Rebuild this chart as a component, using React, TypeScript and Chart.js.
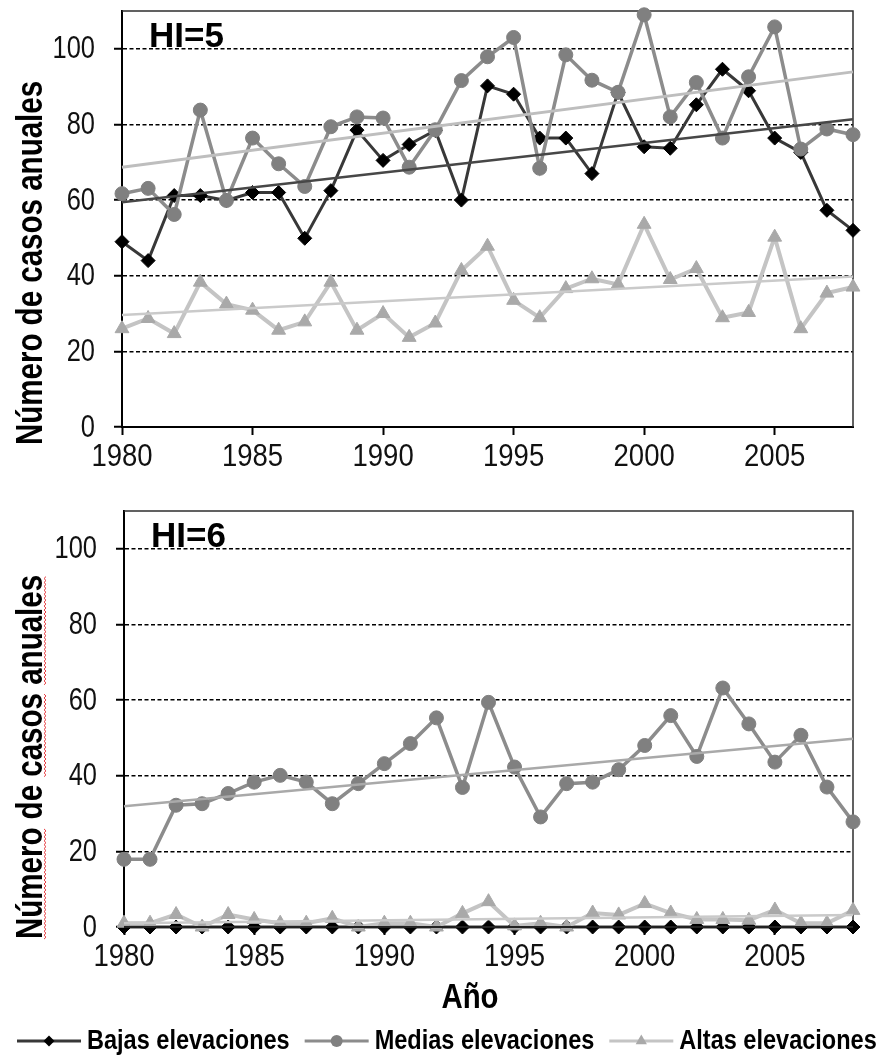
import React, { useEffect, useRef } from 'react';
import { Chart, registerables } from 'chart.js';

Chart.register(...registerables);

// ---------------- data ----------------
const years = [
  1980, 1981, 1982, 1983, 1984, 1985, 1986, 1987, 1988, 1989,
  1990, 1991, 1992, 1993, 1994, 1995, 1996, 1997, 1998, 1999,
  2000, 2001, 2002, 2003, 2004, 2005, 2006, 2007, 2008,
];

const seriesLabels = ['Bajas elevaciones', 'Medias elevaciones', 'Altas elevaciones'];
const panelLabels = ['HI=5', 'HI=6'];
const yTitle = 'Número de casos anuales';
const xTitle = 'Año';
const xTickValues = [1980, 1985, 1990, 1995, 2000, 2005];
const yTickValues = [0, 20, 40, 60, 80, 100];

// HI=5
const hi5Bajas = [49, 44, 61.2, 61.2, 59.9, 62, 62, 49.9, 62.5, 78.5, 70.5, 74.7, 78.4, 60, 90.2, 88, 76.4, 76.4, 67, 88.5, 74.1, 73.7, 85.2, 94.6, 88.9, 76.4, 72.6, 57.3, 52];
const hi5Medias = [61.7, 63.1, 56.2, 83.8, 59.9, 76.4, 69.6, 63.6, 79.4, 82, 81.7, 68.7, 78.6, 91.6, 97.9, 103, 68.4, 98.4, 91.7, 88.5, 109, 82, 91.1, 76.4, 92.6, 105.8, 73.5, 78.8, 77.3];
const hi5Altas = [26, 28.7, 24.7, 38.3, 32.5, 30.9, 25.6, 27.8, 38.3, 25.6, 30, 23.7, 27.5, 41.4, 47.8, 33.5, 28.9, 36.6, 39.2, 37.7, 53.6, 39, 41.9, 28.9, 30.3, 50.2, 26, 35.4, 37];

// HI=6
const hi6Bajas = [0, 0, 0, 0, 0, 0, 0, 0, 0, 0, 0, 0, 0, 0, 0, 0, 0, 0, 0, 0, 0, 0, 0, 0, 0, 0, 0, 0, 0];
const hi6Medias = [17.9, 17.9, 32.2, 32.6, 35.3, 38.3, 40.1, 38.3, 32.6, 37.9, 43.2, 48.5, 55.3, 36.9, 59.4, 42.3, 29.1, 37.9, 38.3, 41.6, 48, 55.9, 45.1, 63.2, 53.7, 43.6, 50.7, 37, 27.8];
const hi6Altas = [1, 1, 3.3, 0, 3.3, 2, 1, 1, 2.3, 0, 1, 1, 0, 3.6, 6.7, 0.3, 1, 0, 3.7, 3.2, 6.2, 3.7, 2, 2, 1.8, 4.5, 1, 1, 4.4];

// linear trend lines (end points)
const trendYears = [1980, 2008];
const hi5BajasTrend = [59.4, 81.4];
const hi5MediasTrend = [68.7, 93.9];
const hi5AltasTrend = [29.6, 39.8];
const hi6BajasTrend = [0, 0];
const hi6MediasTrend = [31.9, 49.8];
const hi6AltasTrend = [1.0, 3.2];

// ---------------- styling ----------------
const SANS = "'Liberation Sans', Arial, sans-serif";

const seriesStyle = [
  { line: '#383838', width: 3, point: 'rectRot', radius: 7, fill: '#000000', lr: 5.5 },
  { line: '#8c8c8c', width: 3.5, point: 'circle', radius: 7, fill: '#808080', lr: 6 },
  { line: '#c4c4c4', width: 4, point: 'triangle', radius: 8, fill: '#a9a9a9', lr: 6.5 },
];

function pts(vals: number[]) {
  return years.map((x, i) => ({ x, y: vals[i] }));
}
function tpts(vals: number[]) {
  return trendYears.map((x, i) => ({ x, y: vals[i] }));
}

function makeDatasets(series: number[][], trends: number[][], trendColors: string[], trendWidths: number[]) {
  const ds: any[] = [];
  series.forEach((vals, i) => {
    const s = seriesStyle[i];
    ds.push({
      label: seriesLabels[i],
      data: pts(vals),
      borderColor: s.line,
      borderWidth: s.width,
      pointStyle: s.point,
      pointRadius: s.radius,
      pointBackgroundColor: s.fill,
      pointBorderColor: s.fill,
      pointBorderWidth: 1,
      tension: 0,
      clip: false,
      order: 3 - i,
      isSeries: true,
      seriesIndex: i,
    });
  });
  trends.forEach((vals, i) => {
    ds.push({
      label: seriesLabels[i] + ' (tendencia)',
      data: tpts(vals),
      borderColor: trendColors[i],
      borderWidth: trendWidths[i],
      pointRadius: 0,
      tension: 0,
      clip: false,
      order: 0,
    });
  });
  return ds;
}

function drawMarker(ctx: CanvasRenderingContext2D, style: string, x: number, y: number, r: number, color: string) {
  ctx.save();
  ctx.fillStyle = color;
  ctx.beginPath();
  if (style === 'rectRot') {
    ctx.moveTo(x, y - r);
    ctx.lineTo(x + r, y);
    ctx.lineTo(x, y + r);
    ctx.lineTo(x - r, y);
    ctx.closePath();
  } else if (style === 'circle') {
    ctx.arc(x, y, r, 0, Math.PI * 2);
  } else {
    ctx.moveTo(x, y - r);
    ctx.lineTo(x + r * 0.866, y + r * 0.5);
    ctx.lineTo(x - r * 0.866, y + r * 0.5);
    ctx.closePath();
  }
  ctx.fill();
  ctx.restore();
}

// condensed text: the original uses a narrow face, emulated by a horizontal scale
function narrowText(
  ctx: CanvasRenderingContext2D, text: string, x: number, y: number, font: string, sx: number,
  align: CanvasTextAlign, baseline: CanvasTextBaseline, color = '#111'
) {
  ctx.save();
  ctx.font = font;
  ctx.fillStyle = color;
  ctx.textAlign = align;
  ctx.textBaseline = baseline;
  ctx.translate(x, y);
  ctx.scale(sx, 1);
  ctx.fillText(text, 0, 0);
  ctx.restore();
}

function panelPlugin(cfg: { panel: string; titleX: number; titleCy: number; wavy: boolean; bottom: boolean }) {
  return {
    id: 'panelDecor',
    beforeDatasetsDraw(chart: any) {
      const { ctx, chartArea: ca } = chart;
      ctx.save();
      ctx.strokeStyle = '#2e2e2e';
      ctx.lineWidth = 1.5;
      ctx.beginPath();
      ctx.moveTo(ca.left, ca.top);
      ctx.lineTo(ca.right, ca.top);
      ctx.lineTo(ca.right, ca.bottom);
      ctx.stroke();
      ctx.restore();
    },
    afterDraw(chart: any) {
      const { ctx, chartArea: ca } = chart;
      const xs = chart.scales.x;
      const ys = chart.scales.y;
      ctx.save();

      // tick labels
      yTickValues.forEach((v) => {
        narrowText(ctx, String(v), ca.left - 27, ys.getPixelForValue(v) + 1, `31px ${SANS}`, 0.82, 'right', 'middle');
      });
      xTickValues.forEach((v) => {
        narrowText(ctx, String(v), xs.getPixelForValue(v), ca.bottom + 30, `32px ${SANS}`, 0.86, 'center', 'middle');
      });

      // panel label
      ctx.font = `bold 35px ${SANS}`;
      ctx.fillStyle = '#000';
      ctx.textAlign = 'left';
      ctx.textBaseline = 'alphabetic';
      ctx.fillText(cfg.panel, ca.left + 27, ca.top + 36);

      // y title
      ctx.save();
      ctx.translate(cfg.titleX, cfg.titleCy);
      ctx.rotate(-Math.PI / 2);
      const sx = 0.82;
      ctx.scale(sx, 1);
      ctx.font = `bold 36px ${SANS}`;
      ctx.fillStyle = '#000';
      ctx.textAlign = 'left';
      ctx.textBaseline = 'alphabetic';
      const w = ctx.measureText(yTitle).width;
      const start = -w / 2;
      ctx.fillText(yTitle, start, 0);
      if (cfg.wavy) {
        const words = yTitle.split(' ');
        const spaceW = ctx.measureText(' ').width;
        let pos = start;
        ctx.strokeStyle = '#e3262b';
        ctx.lineWidth = 1;
        words.forEach((word) => {
          const ww = ctx.measureText(word).width;
          if (word.length > 2) {
            ctx.beginPath();
            let up = true;
            for (let p = pos; p <= pos + ww; p += 2.4) {
              const v = up ? 2 : 4;
              if (p === pos) ctx.moveTo(p, v);
              else ctx.lineTo(p, v);
              up = !up;
            }
            ctx.stroke();
          }
          pos += ww + spaceW;
        });
      }
      ctx.restore();

      if (cfg.bottom) {
        // x title
        narrowText(ctx, xTitle, 470, 498, `bold 35px ${SANS}`, 0.84, 'center', 'middle', '#000');

        // legend
        const items = chart.data.datasets.filter((d: any) => d.isSeries);
        let x = 17;
        const cy = 541;
        const lsx = 0.84;
        const lfont = `bold 28px ${SANS}`;
        items.forEach((d: any) => {
          const s = seriesStyle[d.seriesIndex];
          ctx.strokeStyle = s.line;
          ctx.lineWidth = 3;
          ctx.beginPath();
          ctx.moveTo(x, cy);
          ctx.lineTo(x + 64, cy);
          ctx.stroke();
          drawMarker(ctx, s.point, x + 32, cy, s.lr, s.fill);
          x += 70;
          narrowText(ctx, d.label, x, cy, lfont, lsx, 'left', 'middle', '#000');
          ctx.font = lfont;
          x += ctx.measureText(d.label).width * lsx + 15;
        });
      }
      ctx.restore();
    },
  };
}

function makeConfig(datasets: any[], yAxisWidth: number, xAxisHeight: number, plugin: any): any {
  return {
    type: 'line',
    data: { datasets },
    plugins: [plugin],
    options: {
      responsive: false,
      animation: false,
      events: [],
      layout: { padding: { top: 11, right: 24, left: 0, bottom: 0 } },
      plugins: { legend: { display: false }, tooltip: { enabled: false }, title: { display: false } },
      scales: {
        x: {
          type: 'linear',
          min: 1980,
          max: 2008,
          afterFit: (s: any) => { s.height = xAxisHeight; },
          afterBuildTicks: (s: any) => { s.ticks = xTickValues.map((v) => ({ value: v })); },
          ticks: { display: false },
          grid: {
            drawOnChartArea: false,
            drawTicks: true,
            tickLength: 8,
            tickWidth: 2,
            tickColor: '#000',
          },
          border: { display: true, color: '#000', width: 2 },
        },
        y: {
          type: 'linear',
          min: 0,
          max: 110,
          afterFit: (s: any) => { s.width = yAxisWidth; },
          afterBuildTicks: (s: any) => { s.ticks = yTickValues.map((v) => ({ value: v })); },
          ticks: { display: false },
          grid: {
            color: (c: any) => (c.tick && c.tick.value === 0 ? 'rgba(0,0,0,0)' : '#000'),
            lineWidth: 1.5,
            drawTicks: true,
            tickLength: 8,
            tickWidth: 2,
            tickColor: '#000',
            tickBorderDash: [],
          },
          border: { display: true, color: '#000', width: 2, dash: [4, 2.5] },
        },
      },
    },
  };
}

export default function App() {
  const topRef = useRef<HTMLCanvasElement>(null);
  const botRef = useRef<HTMLCanvasElement>(null);

  useEffect(() => {
    const c1 = new Chart(
      topRef.current as HTMLCanvasElement,
      makeConfig(
        makeDatasets([hi5Bajas, hi5Medias, hi5Altas], [hi5BajasTrend, hi5MediasTrend, hi5AltasTrend], ['#474747', '#bebebe', '#cacaca'], [2.5, 3, 2.5]),
        122,
        63,
        panelPlugin({ panel: panelLabels[0], titleX: 42, titleCy: 263, wavy: false, bottom: false })
      )
    );
    const c2 = new Chart(
      botRef.current as HTMLCanvasElement,
      makeConfig(
        makeDatasets([hi6Bajas, hi6Medias, hi6Altas], [hi6BajasTrend, hi6MediasTrend, hi6AltasTrend], ['#222222', '#a9a9a9', '#cacaca'], [2, 2.5, 2.5]),
        124,
        130,
        panelPlugin({ panel: panelLabels[1], titleX: 42, titleCy: 257, wavy: true, bottom: true })
      )
    );
    return () => {
      c1.destroy();
      c2.destroy();
    };
  }, []);

  return (
    <div style={{ position: 'absolute', left: 0, top: 0, width: 877, height: 1057, background: '#fff' }}>
      <canvas ref={topRef} width={877} height={490} style={{ position: 'absolute', left: 0, top: 0, display: 'block' }} />
      <canvas ref={botRef} width={877} height={557} style={{ position: 'absolute', left: 0, top: 500, display: 'block' }} />
    </div>
  );
}
